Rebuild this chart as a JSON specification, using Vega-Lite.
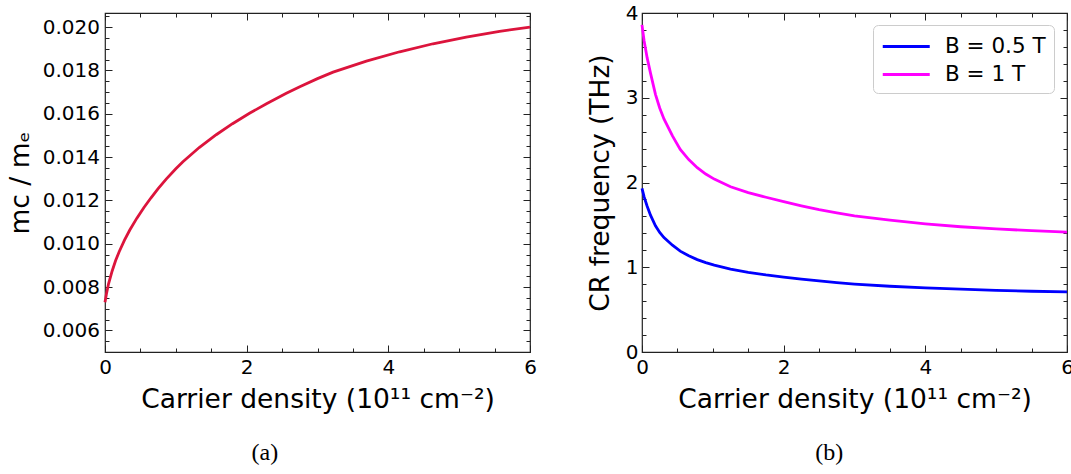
{
  "$schema": "https://vega.github.io/schema/vega-lite/v6.json",
  "padding": {"left": 6, "top": 2, "right": 0, "bottom": 0},
  "background": "white",
  "datasets": {
    "mc": [
      {"n": 0, "m": 0.0073}, {"n": 0.02, "m": 0.00768}, {"n": 0.05, "m": 0.00815}, {"n": 0.1, "m": 0.00873},
      {"n": 0.15, "m": 0.00922}, {"n": 0.2, "m": 0.00963}, {"n": 0.275, "m": 0.01016}, {"n": 0.35, "m": 0.01063},
      {"n": 0.45, "m": 0.01118}, {"n": 0.55, "m": 0.01167}, {"n": 0.65, "m": 0.01212}, {"n": 0.75, "m": 0.01254},
      {"n": 0.864, "m": 0.01298}, {"n": 1.0, "m": 0.01346}, {"n": 1.1, "m": 0.01378}, {"n": 1.33, "m": 0.01444},
      {"n": 1.57, "m": 0.01503}, {"n": 1.8, "m": 0.01554}, {"n": 2.04, "m": 0.01602}, {"n": 2.28, "m": 0.01646},
      {"n": 2.56, "m": 0.01694}, {"n": 2.75, "m": 0.01725}, {"n": 3.0, "m": 0.01762}, {"n": 3.22, "m": 0.01792},
      {"n": 3.69, "m": 0.01843}, {"n": 4.16, "m": 0.01886}, {"n": 4.63, "m": 0.01923}, {"n": 5.1, "m": 0.01954},
      {"n": 5.57, "m": 0.0198}, {"n": 6.0, "m": 0.02}
    ],
    "cr": [
      {"n": 0, "f": 1.93, "B": "B = 0.5 T"}, {"n": 0.03, "f": 1.83, "B": "B = 0.5 T"}, {"n": 0.073, "f": 1.72, "B": "B = 0.5 T"},
      {"n": 0.12, "f": 1.615, "B": "B = 0.5 T"}, {"n": 0.19, "f": 1.49, "B": "B = 0.5 T"}, {"n": 0.25, "f": 1.41, "B": "B = 0.5 T"},
      {"n": 0.31, "f": 1.35, "B": "B = 0.5 T"}, {"n": 0.43, "f": 1.26, "B": "B = 0.5 T"}, {"n": 0.54, "f": 1.19, "B": "B = 0.5 T"},
      {"n": 0.66, "f": 1.135, "B": "B = 0.5 T"}, {"n": 0.78, "f": 1.09, "B": "B = 0.5 T"}, {"n": 0.9, "f": 1.055, "B": "B = 0.5 T"},
      {"n": 1.02, "f": 1.025, "B": "B = 0.5 T"}, {"n": 1.25, "f": 0.978, "B": "B = 0.5 T"}, {"n": 1.5, "f": 0.94, "B": "B = 0.5 T"},
      {"n": 1.75, "f": 0.909, "B": "B = 0.5 T"}, {"n": 2.0, "f": 0.883, "B": "B = 0.5 T"}, {"n": 2.25, "f": 0.859, "B": "B = 0.5 T"},
      {"n": 2.5, "f": 0.838, "B": "B = 0.5 T"}, {"n": 2.75, "f": 0.818, "B": "B = 0.5 T"}, {"n": 3.0, "f": 0.801, "B": "B = 0.5 T"},
      {"n": 3.5, "f": 0.776, "B": "B = 0.5 T"}, {"n": 4.0, "f": 0.757, "B": "B = 0.5 T"}, {"n": 4.5, "f": 0.741, "B": "B = 0.5 T"},
      {"n": 5.0, "f": 0.728, "B": "B = 0.5 T"}, {"n": 5.5, "f": 0.717, "B": "B = 0.5 T"}, {"n": 6.0, "f": 0.709, "B": "B = 0.5 T"},
      {"n": 0, "f": 3.86, "B": "B = 1 T"}, {"n": 0.03, "f": 3.67, "B": "B = 1 T"}, {"n": 0.073, "f": 3.47, "B": "B = 1 T"},
      {"n": 0.12, "f": 3.29, "B": "B = 1 T"}, {"n": 0.19, "f": 3.04, "B": "B = 1 T"}, {"n": 0.25, "f": 2.88, "B": "B = 1 T"},
      {"n": 0.31, "f": 2.75, "B": "B = 1 T"}, {"n": 0.43, "f": 2.55, "B": "B = 1 T"}, {"n": 0.54, "f": 2.39, "B": "B = 1 T"},
      {"n": 0.66, "f": 2.27, "B": "B = 1 T"}, {"n": 0.78, "f": 2.175, "B": "B = 1 T"}, {"n": 0.9, "f": 2.1, "B": "B = 1 T"},
      {"n": 1.02, "f": 2.04, "B": "B = 1 T"}, {"n": 1.25, "f": 1.95, "B": "B = 1 T"}, {"n": 1.5, "f": 1.88, "B": "B = 1 T"},
      {"n": 1.75, "f": 1.826, "B": "B = 1 T"}, {"n": 2.0, "f": 1.774, "B": "B = 1 T"}, {"n": 2.25, "f": 1.725, "B": "B = 1 T"},
      {"n": 2.5, "f": 1.68, "B": "B = 1 T"}, {"n": 2.75, "f": 1.641, "B": "B = 1 T"}, {"n": 3.0, "f": 1.606, "B": "B = 1 T"},
      {"n": 3.5, "f": 1.555, "B": "B = 1 T"}, {"n": 4.0, "f": 1.512, "B": "B = 1 T"}, {"n": 4.5, "f": 1.478, "B": "B = 1 T"},
      {"n": 5.0, "f": 1.453, "B": "B = 1 T"}, {"n": 5.5, "f": 1.431, "B": "B = 1 T"}, {"n": 6.0, "f": 1.415, "B": "B = 1 T"}
    ]
  },
  "spacing": 49,
  "resolve": {"scale": {"color": "independent"}, "legend": {"color": "independent"}},
  "hconcat": [
    {
      "width": 425,
      "height": 339,
      "title": {"text": "(a)", "orient": "bottom", "anchor": "middle", "frame": "bounds", "dx": -7, "font": "Liberation Serif", "fontSize": 24, "fontWeight": "normal", "color": "#000", "offset": 28},
      "data": {"name": "mc"},
      "resolve": {"axis": {"x": "independent", "y": "independent"}},
      "layer": [
        {
          "mark": {"type": "line", "color": "#dc143c", "strokeWidth": 2.8},
          "encoding": {
            "x": {"field": "n", "type": "quantitative", "scale": {"domain": [0, 6], "nice": false, "zero": false},
              "axis": {"orient": "bottom", "values": [0,0.5,1,1.5,2,2.5,3,3.5,4,4.5,5,5.5,6],
                "labelExpr": "datum.value % 2 == 0 ? format(datum.value, 'd') : ''",
                "tickSize": {"condition": {"test": "datum.value % 2 == 0", "value": -7}, "value": -4},
                "labelPadding": 12, "labelFlush": false, "labelOverlap": false,
                "title": "Carrier density (10¹¹ cm⁻²)", "titlePadding": 6}},
            "y": {"field": "m", "type": "quantitative", "scale": {"domain": [0.005, 0.02065], "nice": false, "zero": false},
              "axis": {"orient": "left", "values": [0.005,0.0055,0.006,0.0065,0.007,0.0075,0.008,0.0085,0.009,0.0095,0.01,0.0105,0.011,0.0115,0.012,0.0125,0.013,0.0135,0.014,0.0145,0.015,0.0155,0.016,0.0165,0.017,0.0175,0.018,0.0185,0.019,0.0195,0.02,0.0205],
                "labelExpr": "round(datum.value*10000) % 20 == 0 ? format(datum.value, '.3f') : ''",
                "tickSize": {"condition": {"test": "round(datum.value*10000) % 20 == 0", "value": -7}, "value": -4},
                "labelPadding": 12.5, "labelFlush": false, "labelOverlap": false,
                "title": "mᴄ / mₑ", "titlePadding": 8}}
          }
        },
        {
          "mark": {"type": "line", "opacity": 0},
          "encoding": {
            "x": {"field": "n", "type": "quantitative",
              "axis": {"orient": "top", "values": [0,0.5,1,1.5,2,2.5,3,3.5,4,4.5,5,5.5,6], "labels": false, "title": null,
                "tickSize": {"condition": {"test": "datum.value % 2 == 0", "value": -7}, "value": -4}}},
            "y": {"field": "m", "type": "quantitative",
              "axis": {"orient": "right", "values": [0.005,0.0055,0.006,0.0065,0.007,0.0075,0.008,0.0085,0.009,0.0095,0.01,0.0105,0.011,0.0115,0.012,0.0125,0.013,0.0135,0.014,0.0145,0.015,0.0155,0.016,0.0165,0.017,0.0175,0.018,0.0185,0.019,0.0195,0.02,0.0205], "labels": false, "title": null,
                "tickSize": {"condition": {"test": "round(datum.value*10000) % 20 == 0", "value": -7}, "value": -4}}}
          }
        }
      ]
    },
    {
      "width": 425,
      "height": 339,
      "title": {"text": "(b)", "orient": "bottom", "anchor": "middle", "frame": "bounds", "dx": -1, "font": "Liberation Serif", "fontSize": 24, "fontWeight": "normal", "color": "#000", "offset": 28},
      "data": {"name": "cr"},
      "resolve": {"axis": {"x": "independent", "y": "independent"}},
      "layer": [
        {
          "mark": {"type": "line", "strokeWidth": 2.8},
          "encoding": {
            "x": {"field": "n", "type": "quantitative", "scale": {"domain": [0, 6], "nice": false, "zero": false},
              "axis": {"orient": "bottom", "values": [0,0.5,1,1.5,2,2.5,3,3.5,4,4.5,5,5.5,6],
                "labelExpr": "datum.value % 2 == 0 ? format(datum.value, 'd') : ''",
                "tickSize": {"condition": {"test": "datum.value % 2 == 0", "value": -7}, "value": -4},
                "labelPadding": 12, "labelFlush": false, "labelOverlap": false,
                "title": "Carrier density (10¹¹ cm⁻²)", "titlePadding": 6}},
            "y": {"field": "f", "type": "quantitative", "scale": {"domain": [0, 4], "nice": false, "zero": false},
              "axis": {"orient": "left", "values": [0,0.2,0.4,0.6,0.8,1,1.2,1.4,1.6,1.8,2,2.2,2.4,2.6,2.8,3,3.2,3.4,3.6,3.8,4],
                "labelExpr": "abs(datum.value - round(datum.value)) < 0.001 ? format(datum.value, 'd') : ''",
                "tickSize": {"condition": {"test": "abs(datum.value - round(datum.value)) < 0.001", "value": -7}, "value": -4},
                "labelPadding": 11, "labelFlush": false, "labelOverlap": false,
                "title": "CR frequency (THz)", "titlePadding": 11}},
            "color": {"field": "B", "type": "nominal",
              "scale": {"domain": ["B = 0.5 T", "B = 1 T"], "range": ["#0000ff", "#ff00ff"]},
              "legend": {"title": null, "orient": "none", "legendX": 231, "legendY": 12}}
          }
        },
        {
          "mark": {"type": "line", "opacity": 0},
          "encoding": {
            "x": {"field": "n", "type": "quantitative",
              "axis": {"orient": "top", "values": [0,0.5,1,1.5,2,2.5,3,3.5,4,4.5,5,5.5,6], "labels": false, "title": null,
                "tickSize": {"condition": {"test": "datum.value % 2 == 0", "value": -7}, "value": -4}}},
            "y": {"field": "f", "type": "quantitative",
              "axis": {"orient": "right", "values": [0,0.2,0.4,0.6,0.8,1,1.2,1.4,1.6,1.8,2,2.2,2.4,2.6,2.8,3,3.2,3.4,3.6,3.8,4], "labels": false, "title": null,
                "tickSize": {"condition": {"test": "abs(datum.value - round(datum.value)) < 0.001", "value": -7}, "value": -4}}},
            "detail": {"field": "B", "type": "nominal"}
          }
        }
      ]
    }
  ],
  "config": {
    "view": {"stroke": "#222", "strokeWidth": 1.2},
    "axis": {"grid": false, "domain": false, "labelFont": "DejaVu Sans", "labelFontSize": 20, "labelColor": "#000",
      "titleFont": "DejaVu Sans", "titleFontSize": 26.5, "titleFontWeight": "normal", "titleColor": "#000",
      "tickColor": "#222", "tickWidth": 1},
    "legend": {"fillColor": "white", "strokeColor": "#cccccc", "cornerRadius": 5, "padding": 8,
      "symbolType": "M-1,0H3", "symbolSize": 552, "symbolStrokeWidth": 3, "labelFont": "DejaVu Sans",
      "labelFontSize": 21.5, "labelColor": "#000", "rowPadding": 4, "labelOffset": 37, "labelLimit": 300}
  }
}
